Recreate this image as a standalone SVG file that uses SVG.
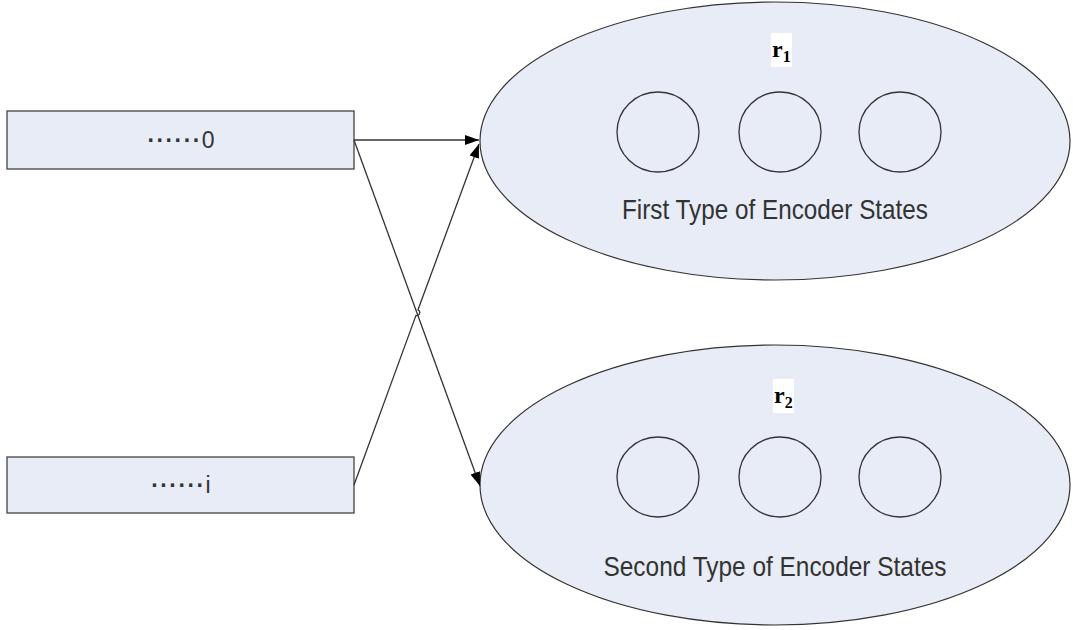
<svg xmlns="http://www.w3.org/2000/svg" width="1073" height="630" viewBox="0 0 1073 630">
  <style>
    .box { fill: #E7ECF6; stroke: #444; stroke-width: 1.3; }
    .group { fill: #E7ECF6; stroke: #333; stroke-width: 1.2; }
    .state { fill: none; stroke: #333; stroke-width: 1.3; }
    .edge { fill: none; stroke: #333; stroke-width: 1.3; }
    .lbl { font-family: "Liberation Sans", Arial, sans-serif; fill: #333; text-anchor: middle; }
    .dots { font-weight: bold; letter-spacing: 1.4px; }
    .tag { fill: #FFFFFF; stroke: none; }
    .sym { font-family: "Liberation Serif", "Times New Roman", serif; font-weight: bold; fill: #000; }
  </style>
  <defs>
    <marker id="arrow" markerUnits="userSpaceOnUse" markerWidth="15" markerHeight="11" refX="14" refY="5" orient="auto">
      <path d="M0,0 L14,5 L0,10 z" fill="#000"/>
    </marker>
  </defs>

  <rect width="1073" height="630" fill="#FFFFFF"/>

  <!-- input rows -->
  <g id="row-0">
    <rect class="box" x="7" y="111" width="347" height="58"/>
    <text class="lbl" x="181" y="148" font-size="23"><tspan class="dots">······</tspan>0</text>
  </g>
  <g id="row-i">
    <rect class="box" x="7" y="457" width="347" height="56"/>
    <text class="lbl" x="181" y="493" font-size="23"><tspan class="dots">······</tspan>i</text>
  </g>

  <!-- first state group -->
  <g id="group-r1">
    <ellipse class="group" cx="775" cy="141" rx="295" ry="139"/>
    <rect class="tag" x="771" y="33" width="21" height="34"/>
    <text class="sym" x="772" y="57" font-size="24">r<tspan font-size="16" dy="5">1</tspan></text>
    <ellipse class="state" cx="658" cy="132" rx="41" ry="40"/>
    <ellipse class="state" cx="780" cy="132" rx="41" ry="40"/>
    <ellipse class="state" cx="900" cy="132" rx="41" ry="40"/>
    <text class="lbl" x="775" y="219" font-size="28" textLength="306" lengthAdjust="spacingAndGlyphs">First Type of Encoder States</text>
  </g>

  <!-- second state group -->
  <g id="group-r2">
    <ellipse class="group" cx="775" cy="485" rx="295" ry="140"/>
    <rect class="tag" x="773" y="379" width="21" height="34"/>
    <text class="sym" x="774" y="403" font-size="24">r<tspan font-size="16" dy="5">2</tspan></text>
    <ellipse class="state" cx="658" cy="477" rx="41" ry="40"/>
    <ellipse class="state" cx="780" cy="477" rx="41" ry="40"/>
    <ellipse class="state" cx="900" cy="477" rx="41" ry="40"/>
    <text class="lbl" x="775" y="576" font-size="28" textLength="343" lengthAdjust="spacingAndGlyphs">Second Type of Encoder States</text>
  </g>

  <!-- connectors -->
  <g id="connectors">
    <path class="edge" d="M354,140 L479,140" marker-end="url(#arrow)"/>
    <path class="edge" d="M354,140 L480,486" marker-end="url(#arrow)"/>
    <path class="edge" d="M354,485 L415.97,315.4 A3,3 0 0 0 418.03,309.8 L479,144" marker-end="url(#arrow)"/>
  </g>
</svg>
